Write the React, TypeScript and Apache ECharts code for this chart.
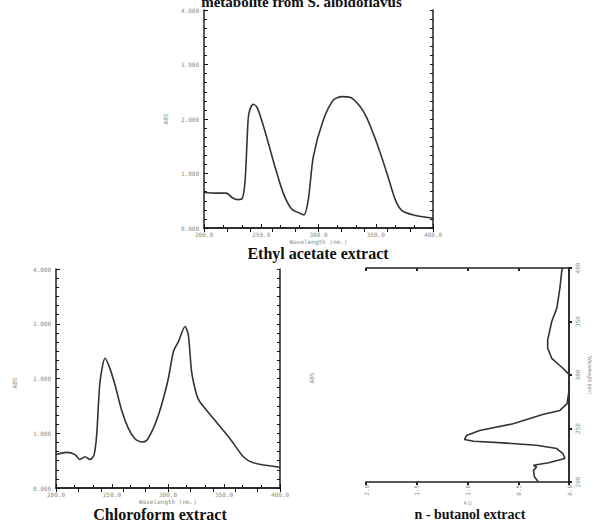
import React, { useEffect, useRef } from "react";
import * as echarts from "echarts";

// Ethyl acetate extract spectrum
const ethylWl = [200, 210, 219.6, 225, 229.8, 233.6, 236, 238.5, 240, 242.9, 245.8, 248.8, 254.6, 261.9, 269.2, 276.5, 283.8, 287.3, 291.1, 295.5, 304.2, 313, 320.3, 327.6, 336.3, 342.2, 350.9, 359.7, 367, 372.8, 383, 400];
const ethylAbs = [0.65, 0.64, 0.64, 0.55, 0.52, 0.55, 0.9, 1.98, 2.17, 2.27, 2.23, 2.08, 1.68, 1.13, 0.64, 0.35, 0.27, 0.24, 0.52, 1.31, 1.98, 2.35, 2.41, 2.4, 2.23, 2.02, 1.56, 1.01, 0.52, 0.32, 0.24, 0.18];

// Chloroform extract spectrum
const chloroWl = [200, 209.5, 217, 221.4, 225.9, 230.4, 233.9, 236.3, 239.3, 243.8, 248.2, 252.7, 258.6, 264.6, 270.5, 276.5, 281, 286.9, 291.4, 295.8, 300.3, 304.8, 309.2, 315.2, 318.2, 321.1, 325.6, 328.6, 340.5, 355.4, 367.3, 376.2, 400];
const chloroAbs = [0.61, 0.65, 0.61, 0.52, 0.57, 0.52, 0.6, 0.96, 1.94, 2.37, 2.18, 1.88, 1.42, 1.09, 0.9, 0.84, 0.87, 1.09, 1.33, 1.63, 2.0, 2.49, 2.67, 2.95, 2.79, 2.12, 1.7, 1.57, 1.27, 0.9, 0.57, 0.46, 0.38];

// n-butanol extract spectrum (rotated plot: wavelength vertical)
const butWl = [200, 204.7, 210.9, 214, 215.6, 218, 221.9, 226.6, 231.3, 234.4, 236.6, 238.1, 239.7, 243.4, 248.1, 254.4, 263.1, 266.9, 273, 285, 300.6, 306.3, 315.6, 325, 332.8, 350, 362.5, 381, 398.4, 400];
const butAbs = [0.3, 0.34, 0.35, 0.32, 0.35, 0.2, 0.04, 0.06, 0.12, 0.32, 0.65, 0.94, 1.03, 1.01, 0.88, 0.55, 0.26, 0.09, 0.02, 0.0, 0.0, 0.06, 0.17, 0.21, 0.21, 0.17, 0.12, 0.09, 0.07, 0.06];

const title = "metabolite from S. albidoflavus";
const captions = ["Ethyl acetate extract", "Chloroform extract", "n - butanol extract"];

const LABEL = { fontSize: 6, color: "#8a8a8a", fontFamily: "DejaVu Sans Mono" };
const AXLINE = { lineStyle: { color: "#222", width: 1.5 } };
const TICK = { color: "#111", width: 1 };

function tickAxis(gi: number, pos: string, min: number, max: number, interval: number, len: number, line: boolean) {
  return {
    type: "value", gridIndex: gi, min, max, interval, position: pos,
    axisLine: line ? AXLINE : { show: false },
    axisTick: { inside: true, length: len, lineStyle: TICK },
    splitLine: { show: false }, axisLabel: { show: false },
  };
}

function specAxes(gi: number) {
  const xs = [
    {
      type: "value", gridIndex: gi, min: 200, max: 400, interval: 50, position: "bottom",
      axisLine: AXLINE, axisTick: { inside: true, length: 4, lineStyle: TICK },
      splitLine: { show: false },
      axisLabel: { ...LABEL, margin: 3, formatter: (v: number) => v.toFixed(1) },
      name: "Wavelength (nm.)", nameLocation: "middle", nameGap: 10,
      nameTextStyle: { fontSize: 6, color: "#8a8a8a", fontFamily: "DejaVu Sans Mono" },
    },
    tickAxis(gi, "bottom", 200, 400, 50 / 3, 3, false),
    tickAxis(gi, "top", 200, 400, 20, 4, true),
  ];
  const ys = [
    {
      type: "value", gridIndex: gi, min: 0, max: 4, interval: 1, position: "left",
      axisLine: AXLINE, axisTick: { inside: true, length: 4, lineStyle: TICK },
      splitLine: { show: false },
      axisLabel: { ...LABEL, margin: 5, formatter: (v: number) => v.toFixed(3) },
    },
    tickAxis(gi, "left", 0, 4, 1 / 6, 3, false),
    tickAxis(gi, "right", 0, 4, 1 / 6, 3, true),
  ];
  return { xs, ys };
}

export default function App() {
  const ref = useRef<HTMLDivElement>(null);
  useEffect(() => {
    if (!ref.current) return;
    const chart = echarts.init(ref.current, null, { renderer: "svg" });
    const a = specAxes(0);
    const b = specAxes(1);
    const butX = [
      {
        type: "value", gridIndex: 2, min: 0, max: 2, interval: 0.5, inverse: true, position: "bottom",
        axisLine: AXLINE, axisTick: { inside: false, length: 3, lineStyle: { color: "#222", width: 2 } },
        splitLine: { show: false },
        axisLabel: { ...LABEL, rotate: 90, margin: 3, formatter: (v: number) => v.toFixed(1) },
        name: "A U", nameLocation: "middle", nameGap: 18,
        nameTextStyle: { fontSize: 5, color: "#8a8a8a" },
      },
      {
        type: "value", gridIndex: 2, min: 0, max: 2, interval: 0.5, inverse: true, position: "top",
        axisLine: AXLINE, axisTick: { inside: true, length: 3, lineStyle: { color: "#222", width: 2 } },
        splitLine: { show: false }, axisLabel: { show: false },
      },
    ];
    const butY = [
      {
        type: "value", gridIndex: 2, min: 200, max: 400, interval: 50, position: "right",
        axisLine: AXLINE, axisTick: { inside: false, length: 3, lineStyle: { color: "#222", width: 2 } },
        splitLine: { show: false },
        axisLabel: { ...LABEL, rotate: 90, margin: 5 },
        name: "Wavelength (nm)", nameLocation: "middle", nameGap: 18, nameRotate: -90,
        nameTextStyle: { fontSize: 5, color: "#8a8a8a" },
      },
      {
        type: "value", gridIndex: 2, min: 200, max: 400, interval: 50, position: "left",
        axisLine: AXLINE, axisTick: { inside: true, length: 3, lineStyle: { color: "#222", width: 2 } },
        splitLine: { show: false }, axisLabel: { show: false },
      },
    ];
    const lineStyle = { color: "#333", width: 1.6 };
    chart.setOption({
      animation: false,
      backgroundColor: "#fff",
      grid: [
        { left: 204, top: 10, width: 229, height: 218 },
        { left: 56, top: 269, width: 224, height: 219 },
        { left: 366, top: 268, width: 203, height: 214 },
      ],
      xAxis: [...a.xs, ...b.xs, ...butX],
      yAxis: [...a.ys, ...b.ys, ...butY],
      series: [
        { type: "line", xAxisIndex: 0, yAxisIndex: 0, showSymbol: false, smooth: 0.25, lineStyle, data: ethylWl.map((w, i) => [w, ethylAbs[i]]) },
        { type: "line", xAxisIndex: 3, yAxisIndex: 3, showSymbol: false, smooth: 0.25, lineStyle, data: chloroWl.map((w, i) => [w, chloroAbs[i]]) },
        { type: "line", xAxisIndex: 6, yAxisIndex: 6, showSymbol: false, smooth: false, lineStyle, data: butWl.map((w, i) => [butAbs[i], w]) },
      ],
      graphic: [
        { type: "text", left: "center", top: -6, style: { text: title, font: "bold 15px 'Liberation Serif'", fill: "#111" } },
        { type: "text", x: 318, y: 253, style: { text: captions[0], font: "bold 16px 'Liberation Serif'", fill: "#111", align: "center", verticalAlign: "middle" } },
        { type: "text", x: 160, y: 514, style: { text: captions[1], font: "bold 16px 'Liberation Serif'", fill: "#111", align: "center", verticalAlign: "middle" } },
        { type: "text", x: 470, y: 514, style: { text: captions[2], font: "bold 14px 'Liberation Serif'", fill: "#111", align: "center", verticalAlign: "middle" } },
        { type: "text", x: 165, y: 119, rotation: Math.PI / 2, style: { text: "ABS", font: "6px 'DejaVu Sans Mono'", fill: "#8a8a8a", align: "center", verticalAlign: "middle" } },
        { type: "text", x: 14, y: 383, rotation: Math.PI / 2, style: { text: "ABS", font: "6px 'DejaVu Sans Mono'", fill: "#8a8a8a", align: "center", verticalAlign: "middle" } },
        { type: "text", x: 311, y: 378, rotation: Math.PI / 2, style: { text: "ABS", font: "6px 'DejaVu Sans Mono'", fill: "#8a8a8a", align: "center", verticalAlign: "middle" } },
      ],
    });
    return () => chart.dispose();
  }, []);
  return <div ref={ref} style={{ position: "fixed", left: 0, top: 0, width: 603, height: 522 }} />;
}
